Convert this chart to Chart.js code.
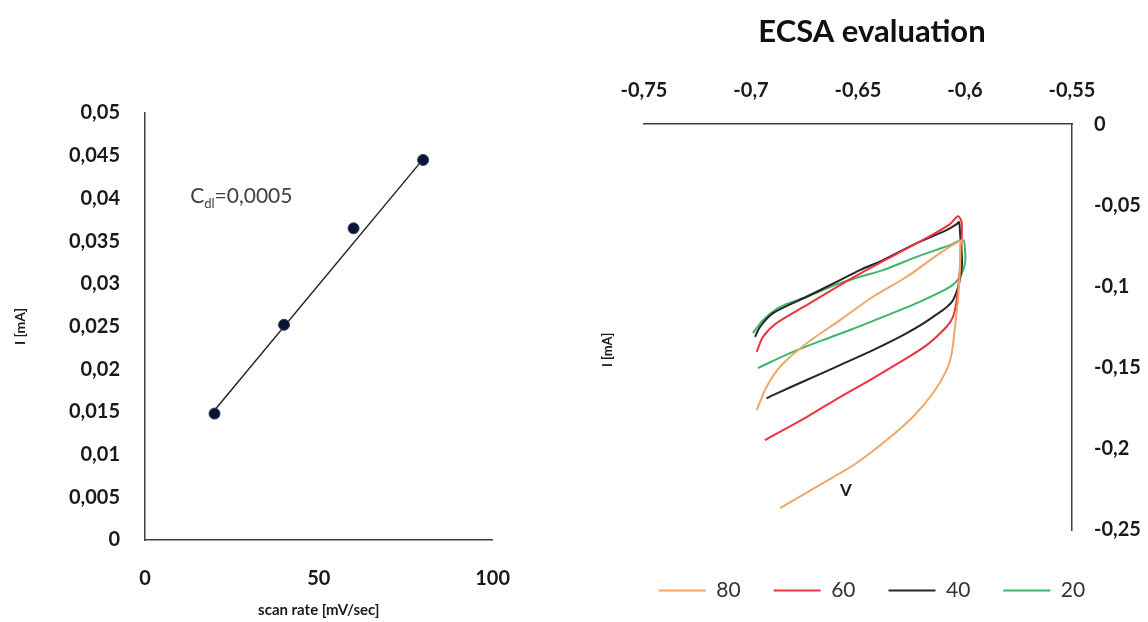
<!DOCTYPE html>
<html>
<head>
<meta charset="utf-8">
<script src="https://cdn.jsdelivr.net/npm/chart.js@4.4.1/dist/chart.umd.min.js"></script>
<style>
  body { margin: 0; background: #fff; width: 1148px; height: 622px; overflow: hidden; position: relative; }
  canvas { position: absolute; top: 0; }
  #rateChart { left: 0; }
  #ecsaChart { left: 596px; }
</style>
</head>
<body>
<canvas id="rateChart" width="537" height="622"></canvas>
<canvas id="ecsaChart" width="552" height="622"></canvas>
<script>
// scan rate vs current (left plot)
const scanRate = [20, 40, 60, 80];
const current = [0.0148, 0.0252, 0.0365, 0.0445];
const fitRate = [20, 80];
const fitCurrent = [0.0152, 0.0446];

// CV curves (right plot), potential V and current mA
const seriesNames = ["80", "60", "40", "20"];
const v80 = [-0.6973, -0.6927, -0.6864, -0.674, -0.6584, -0.643, -0.6272, -0.6117, -0.6015, -0.6023, -0.6023, -0.6033, -0.6047, -0.6062, -0.6086, -0.6149, -0.6243, -0.6366, -0.6506, -0.6664, -0.6864];
const i80 = [-0.1761, -0.1618, -0.1494, -0.135, -0.1207, -0.1063, -0.094, -0.0794, -0.0714, -0.0745, -0.0881, -0.1084, -0.125, -0.141, -0.1515, -0.1656, -0.1802, -0.1946, -0.2087, -0.2211, -0.2365];
const v60 = [-0.6973, -0.6944, -0.688, -0.674, -0.6584, -0.6444, -0.6304, -0.6164, -0.607, -0.6033, -0.6015, -0.6023, -0.6039, -0.6056, -0.6086, -0.6179, -0.6304, -0.6444, -0.6584, -0.674, -0.6935];
const i60 = [-0.1402, -0.131, -0.1225, -0.1115, -0.0991, -0.0887, -0.0788, -0.069, -0.0616, -0.0567, -0.061, -0.0879, -0.1084, -0.1187, -0.1248, -0.1361, -0.1466, -0.1576, -0.1681, -0.1804, -0.1946];
const v40 = [-0.6981, -0.6958, -0.6897, -0.674, -0.6584, -0.6491, -0.6383, -0.6226, -0.6086, -0.6039, -0.6028, -0.6023, -0.6015, -0.6056, -0.6149, -0.6272, -0.643, -0.6584, -0.674, -0.6897, -0.6927];
const i40 = [-0.131, -0.1248, -0.1164, -0.1063, -0.0961, -0.0899, -0.0837, -0.0733, -0.0653, -0.0616, -0.0603, -0.0671, -0.0879, -0.1084, -0.1187, -0.1287, -0.1392, -0.1484, -0.1576, -0.1669, -0.1689];
const v20 = [-0.6991, -0.6944, -0.6864, -0.674, -0.6584, -0.6491, -0.6383, -0.6226, -0.607, -0.6009, -0.600, -0.600, -0.6023, -0.607, -0.6226, -0.6383, -0.6537, -0.6664, -0.6818, -0.6967];
const i20 = [-0.1287, -0.1207, -0.1125, -0.1063, -0.0979, -0.094, -0.0899, -0.0817, -0.0745, -0.0714, -0.0776, -0.0856, -0.094, -0.1002, -0.1102, -0.1187, -0.1268, -0.133, -0.141, -0.1502];
const curveColors = ["#F3A566", "#EE3340", "#262626", "#3DB56B"];

const fontFamily = 'Lato, "Open Sans", sans-serif';
Chart.defaults.font.family = fontFamily;
Chart.defaults.animation = false;

function commaNumber(v, digits) {
    return parseFloat(v.toFixed(digits)).toString().replace(".", ",");
}

function toPoints(xs, ys) {
    return xs.map((x, i) => ({ x: x, y: ys[i] }));
}

// free text drawn at data positions (annotation, misplaced axis titles)
const extraText = {
    id: "extraText",
    afterDraw(chart, args, opts) {
        const ctx = chart.ctx;
        for (const item of opts.items || []) {
            const px = chart.scales.x.getPixelForValue(item.at[0]);
            const py = chart.scales.y.getPixelForValue(item.at[1]);
            ctx.save();
            ctx.translate(px, py);
            if (item.rotate) ctx.rotate(item.rotate);
            ctx.fillStyle = item.color;
            ctx.textBaseline = "middle";
            ctx.textAlign = item.align || "left";
            let x = 0;
            for (const part of item.parts) {
                const size = part.sub ? item.size * 0.62 : item.size;
                ctx.font = (item.weight || "normal") + " " + size + "px " + fontFamily;
                ctx.fillText(part.t, x, part.sub ? item.size * 0.32 : 0);
                x += ctx.measureText(part.t).width;
            }
            ctx.restore();
        }
    }
};

const axisColor = "#404040";
const tickFont = { size: 20, weight: "bold" };

new Chart(document.getElementById("rateChart"), {
    type: "scatter",
    data: {
        datasets: [{
            data: toPoints(scanRate, current),
            pointRadius: 5.5,
            pointBackgroundColor: "#0b1530",
            pointBorderColor: "#2b3d6e",
            pointBorderWidth: 1
        }, {
            data: toPoints(fitRate, fitCurrent),
            showLine: true,
            pointRadius: 0,
            borderColor: "#262626",
            borderWidth: 1.5
        }]
    },
    options: {
        responsive: false,
        layout: { padding: { top: 113, right: 10, bottom: 0, left: 0 } },
        plugins: {
            legend: { display: false },
            tooltip: { enabled: false },
            extraText: {
                items: [{
                    at: [13, 0.0402], size: 21, color: "#404040",
                    parts: [{ t: "C" }, { t: "dl", sub: true }, { t: "=0,0005" }]
                }]
            }
        },
        scales: {
            x: {
                type: "linear", min: 0, max: 100,
                ticks: { stepSize: 50, font: tickFont, color: "#1a1a1a", padding: 27 },
                grid: { display: false, drawTicks: false },
                border: { color: axisColor, width: 1.5 },
                title: { display: true, text: "scan rate [mV/sec]", color: "#1a1a1a",
                    font: { size: 15, weight: "bold" }, padding: { top: 0, bottom: 3 } },
                afterFit: (s) => { s.height = 82; }
            },
            y: {
                min: 0, max: 0.05,
                ticks: { stepSize: 0.005, font: tickFont, color: "#1a1a1a", padding: 25,
                    callback: (v) => commaNumber(v, 3) },
                grid: { display: false, drawTicks: false },
                border: { color: axisColor, width: 1.5 },
                title: { display: true, text: "I [mA]", color: "#1a1a1a",
                    font: { size: 14, weight: "bold" }, padding: { top: 12, bottom: 0 } },
                afterFit: (s) => { s.width = 145; }
            }
        }
    },
    plugins: [extraText]
});

const cvV = [v80, v60, v40, v20];
const cvI = [i80, i60, i40, i20];

new Chart(document.getElementById("ecsaChart"), {
    type: "scatter",
    data: {
        datasets: seriesNames.map((name, k) => ({
            label: name,
            data: toPoints(cvV[k], cvI[k]),
            showLine: true,
            tension: 0.3,
            pointRadius: 0,
            borderColor: curveColors[k],
            backgroundColor: curveColors[k],
            borderWidth: 2,
            xAxisID: "x",
            yAxisID: "y"
        }))
    },
    options: {
        responsive: false,
        layout: { padding: { top: 0, right: 0, bottom: 11, left: 0 } },
        plugins: {
            title: { display: true, text: "ECSA evaluation", color: "#111",
                font: { size: 31, weight: "bold" }, padding: { top: 13, bottom: 14 } },
            legend: {
                position: "bottom",
                labels: { usePointStyle: true, pointStyle: "line", pointStyleWidth: 47,
                    padding: 33, color: "#333", font: { size: 21 } }
            },
            tooltip: { enabled: false },
            extraText: {
                items: [
                    { at: [-0.6556, -0.2254], size: 17, weight: "bold", color: "#1a1a1a", align: "center", parts: [{ t: "V" }] },
                    { at: [-0.7668, -0.139], size: 13, weight: "bold", color: "#1a1a1a", align: "center",
                        rotate: -Math.PI / 2, parts: [{ t: "I [mA]" }] }
                ]
            }
        },
        scales: {
            x: {
                type: "linear", position: "top", min: -0.75, max: -0.55,
                ticks: { stepSize: 0.05, font: tickFont, color: "#1a1a1a", padding: 22,
                    callback: (v) => commaNumber(v, 2) },
                grid: { display: false, drawTicks: false },
                border: { color: axisColor, width: 1.5 },
                afterFit: (s) => { s.height = 60; }
            },
            y: {
                type: "linear", position: "right", min: -0.25, max: 0,
                ticks: { stepSize: 0.05, font: tickFont, color: "#1a1a1a", padding: 22,
                    callback: (v) => commaNumber(v, 2) },
                grid: { display: false, drawTicks: false },
                border: { color: axisColor, width: 1.5 },
                afterFit: (s) => { s.width = 76; }
            },
            spaceLeft: {
                type: "linear", axis: "y", position: "left",
                ticks: { display: false }, grid: { display: false, drawTicks: false },
                border: { display: false },
                afterFit: (s) => { s.width = 48; }
            },
            spaceBottom: {
                type: "linear", axis: "x", position: "bottom",
                ticks: { display: false }, grid: { display: false, drawTicks: false },
                border: { display: false },
                afterFit: (s) => { s.height = 17; }
            }
        }
    },
    plugins: [extraText]
});
</script>
</body>
</html>
